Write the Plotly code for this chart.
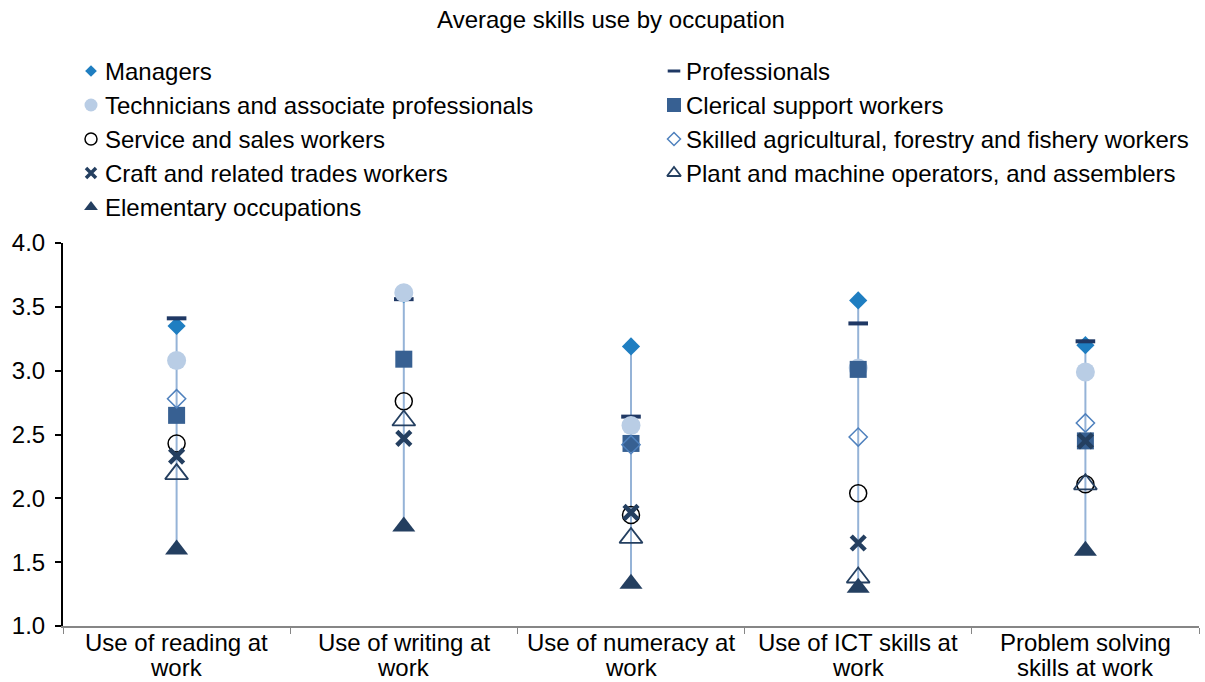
import numpy as np
import plotly.graph_objects as go

# ---- data -------------------------------------------------------------
categories = [
    "Use of reading at<br>work",
    "Use of writing at<br>work",
    "Use of numeracy at<br>work",
    "Use of ICT skills at<br>work",
    "Problem solving<br>skills at work",
]

occupations = [
    "Managers",
    "Professionals",
    "Technicians and associate professionals",
    "Clerical support workers",
    "Service and sales workers",
    "Skilled agricultural, forestry and fishery workers",
    "Craft and related trades workers",
    "Plant and machine operators, and assemblers",
    "Elementary occupations",
]

managers = [3.35, 3.60, 3.19, 3.55, 3.20]
professionals = [3.41, 3.56, 2.64, 3.37, 3.23]
technicians = [3.08, 3.61, 2.57, 3.02, 2.99]
clerical = [2.65, 3.09, 2.43, 3.01, 2.45]
service = [2.43, 2.76, 1.87, 2.04, 2.11]
skilled_agri = [2.78, None, 2.42, 2.48, 2.59]
craft = [2.33, 2.47, 1.89, 1.65, 2.45]
plant = [2.19, 2.61, 1.69, 1.38, 2.11]
elementary = [1.60, 1.78, 1.33, 1.30, 1.59]

series_values = [managers, professionals, technicians, clerical, service,
                 skilled_agri, craft, plant, elementary]

# ---- styles -----------------------------------------------------------
FONT = "Liberation Sans, Arial, sans-serif"
W, H = 1205, 682

styles = [
    dict(symbol="diamond", size=14, color="#1F7EC1", line=dict(width=0)),
    dict(symbol="line-ew", size=14, color="#1F3864", line=dict(width=4, color="#1F3864")),
    dict(symbol="circle", size=19, color="#B9CDE5", line=dict(width=0)),
    dict(symbol="square", size=17, color="#376092", line=dict(width=0)),
    dict(symbol="circle-open", size=17, color="#000000", line=dict(width=1.5)),
    dict(symbol="diamond-open", size=14, color="#4F81BD", line=dict(width=1.5)),
    dict(symbol="x-thin", size=14, color="#243F60", line=dict(width=4.5, color="#243F60")),
    dict(symbol="triangle-up-open", size=20, color="#243F60", line=dict(width=1.8)),
    dict(symbol="triangle-up", size=20, color="#243F60", line=dict(width=0)),
]
legend_sizes = [9, 9, 13, 14, 12, 10, 10, 12, 12]
legend_line_w = {"line-ew": 3, "x-thin": 3.5}

fig = go.Figure()

# high-low connector per category
arr = np.array([[np.nan if v is None else v for v in s] for s in series_values])
lows = np.nanmin(arr, axis=0)
highs = np.nanmax(arr, axis=0)
for cat, lo, hi in zip(categories, lows, highs):
    fig.add_trace(go.Scatter(
        x=[cat, cat], y=[lo, hi], mode="lines",
        line=dict(color="#95B3D7", width=2),
        showlegend=False, hoverinfo="skip",
    ))

# occupation markers
for name, vals, st in zip(occupations, series_values, styles):
    fig.add_trace(go.Scatter(
        x=categories, y=vals, mode="markers", name=name,
        marker=dict(symbol=st["symbol"], size=st["size"], color=st["color"],
                    line=st["line"]),
        showlegend=False,
    ))

# two-column legend drawn on a pixel-scaled overlay axis
col_marker_x = [91, 674]
col_text_x = [103, 684]
row_y0, row_step = 71, 34
for i, (name, st, ls) in enumerate(zip(occupations, styles, legend_sizes)):
    row, col = divmod(i, 2)
    y = row_y0 + row * row_step
    line = dict(st["line"])
    if st["symbol"] in legend_line_w:
        line["width"] = legend_line_w[st["symbol"]]
    fig.add_trace(go.Scatter(
        x=[col_marker_x[col]], y=[y], mode="markers",
        marker=dict(symbol=st["symbol"], size=ls, color=st["color"], line=line),
        xaxis="x2", yaxis="y2", showlegend=False, hoverinfo="skip",
    ))
    fig.add_annotation(
        x=col_text_x[col], y=y, xref="x2", yref="y2", text=name,
        showarrow=False, xanchor="left", yanchor="middle",
        font=dict(family=FONT, size=24, color="#000000"),
    )

x0, x1 = 63, 1199
y_top, y_bot = 243, 626

# category labels, one annotation per text line for tighter line spacing
label_line_y = [642, 667]
for cat in categories:
    for k, part in enumerate(cat.split("<br>")):
        fig.add_annotation(
            x=cat, xref="x", y=1 - label_line_y[k] / H, yref="paper",
            text=part, showarrow=False, xanchor="center", yanchor="middle",
            borderpad=0,
            font=dict(family=FONT, size=24, color="#000000"),
        )

fig.update_layout(
    width=W, height=H,
    margin=dict(l=0, r=0, t=0, b=0, autoexpand=False),
    paper_bgcolor="white", plot_bgcolor="rgba(0,0,0,0)",
    font=dict(family=FONT, size=24, color="#000000"),
    showlegend=False,
    title=dict(text="Average skills use by occupation", x=611 / W, xanchor="center",
               y=1 - 20 / H, yanchor="middle", automargin=False,
               font=dict(family=FONT, size=24, color="#000000")),
    xaxis=dict(
        domain=[x0 / W, x1 / W], type="category", automargin=False,
        categoryorder="array", categoryarray=categories,
        range=[-0.5, len(categories) - 0.5],
        showline=True, linecolor="#868686", linewidth=2,
        ticks="outside", tickson="boundaries", ticklen=6, tickcolor="#868686",
        tickwidth=1, showgrid=False, zeroline=False, showticklabels=False,
    ),
    yaxis=dict(
        domain=[1 - y_bot / H, 1 - y_top / H], automargin=False,
        range=[1, 4], dtick=0.5, tick0=1, tickformat=".1f",
        showline=True, linecolor="#000000", linewidth=2,
        ticks="outside", ticklen=6, tickcolor="#000000", tickwidth=1.5,
        ticklabelstandoff=5,
        showgrid=False, zeroline=False,
        tickfont=dict(family=FONT, size=24, color="#000000"),
    ),
    xaxis2=dict(domain=[0, 1], range=[0, W], visible=False, fixedrange=True,
                automargin=False),
    yaxis2=dict(domain=[0, 1], range=[H, 0], visible=False, fixedrange=True,
                automargin=False),
)

fig.write_html("out.html")
